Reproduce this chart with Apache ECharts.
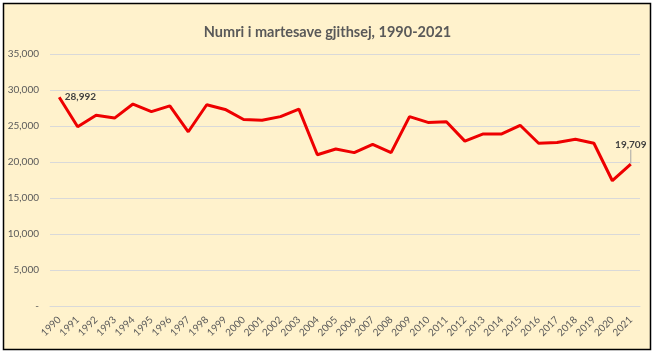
<!DOCTYPE html>
<html>
<head>
<meta charset="utf-8">
<script src="https://cdn.jsdelivr.net/npm/echarts@6/dist/echarts.min.js"></script>
<style>
  html, body { margin: 0; padding: 0; background: #ffffff; }
  #chart { width: 655px; height: 354px; }
</style>
</head>
<body>
<div id="chart"></div>
<script>
// vitet
var years = ['1990','1991','1992','1993','1994','1995','1996','1997','1998','1999',
  '2000','2001','2002','2003','2004','2005','2006','2007','2008','2009','2010',
  '2011','2012','2013','2014','2015','2016','2017','2018','2019','2020','2021'];
// numri i martesave
var marriages = [28992, 24900, 26500, 26100, 28050, 27000, 27800, 24200, 27950, 27300,
  25900, 25800, 26300, 27350, 21000, 21800, 21300, 22450, 21300, 26300, 25500,
  25600, 22900, 23900, 23900, 25100, 22600, 22700, 23150, 22600, 17400, 19709];
// etiketat e boshtit y
var yTicks = [0, 5000, 10000, 15000, 20000, 25000, 30000, 35000];

var chart = echarts.init(document.getElementById('chart'));
var last = marriages.length - 1;

function fmt(v) {
  if (v === 0) return '-';
  return String(v).replace(/\B(?=(\d{3})+(?!\d))/g, ',');
}

var option = {
  backgroundColor: '#ffffff',
  animation: false,
  textStyle: { fontFamily: 'Lato, "Open Sans", sans-serif' },
  graphic: [{
    type: 'rect',
    z: -10,
    shape: { x: 3.5, y: 3.5, width: 647, height: 346 },
    style: { fill: '#FFF2CC', stroke: '#000000', lineWidth: 1.5 }
  }],
  title: {
    text: 'Numri i martesave gjithsej, 1990-2021',
    left: 'center',
    top: 20,
    textStyle: { color: '#595959', fontSize: 14.5, fontWeight: 'bold', fontFamily: 'Lato, sans-serif' }
  },
  grid: { left: 50, right: 15, top: 54, bottom: 48 },
  xAxis: {
    type: 'category',
    data: years,
    boundaryGap: true,
    axisLine: { show: true, lineStyle: { color: '#D9D9D9', width: 1 } },
    axisTick: { show: false },
    axisLabel: { rotate: 45, color: '#595959', fontSize: 10, interval: 0, margin: 12 }
  },
  yAxis: {
    type: 'value',
    min: yTicks[0],
    max: yTicks[yTicks.length - 1],
    interval: 5000,
    axisLine: { show: false },
    axisTick: { show: false },
    splitLine: { lineStyle: { color: '#D9D9D9', width: 1 } },
    axisLabel: { color: '#595959', fontSize: 10, margin: 11, formatter: fmt }
  },
  series: [{
    type: 'line',
    data: marriages.map(function (v, i) {
      if (i === 0) {
        return { value: v, label: { show: true, position: 'right', offset: [8, -1] } };
      }
      if (i === last) {
        return { value: v, label: { show: true, position: 'top', distance: 4 },
          labelLine: { show: true, lineStyle: { color: '#A6A6A6', width: 1 } } };
      }
      return v;
    }),
    symbol: 'circle',
    symbolSize: 1,
    showSymbol: true,
    lineStyle: { color: '#EE0000', width: 3 },
    itemStyle: { color: 'rgba(0,0,0,0)' },
    label: {
      show: false,
      color: '#404040',
      fontSize: 10,
      fontWeight: 'bold',
      formatter: function (p) { return fmt(p.value); }
    },
    labelLayout: function (p) {
      if (p.dataIndex === last) return { dy: -10 };
    }
  }]
};

chart.setOption(option);
</script>
</body>
</html>
